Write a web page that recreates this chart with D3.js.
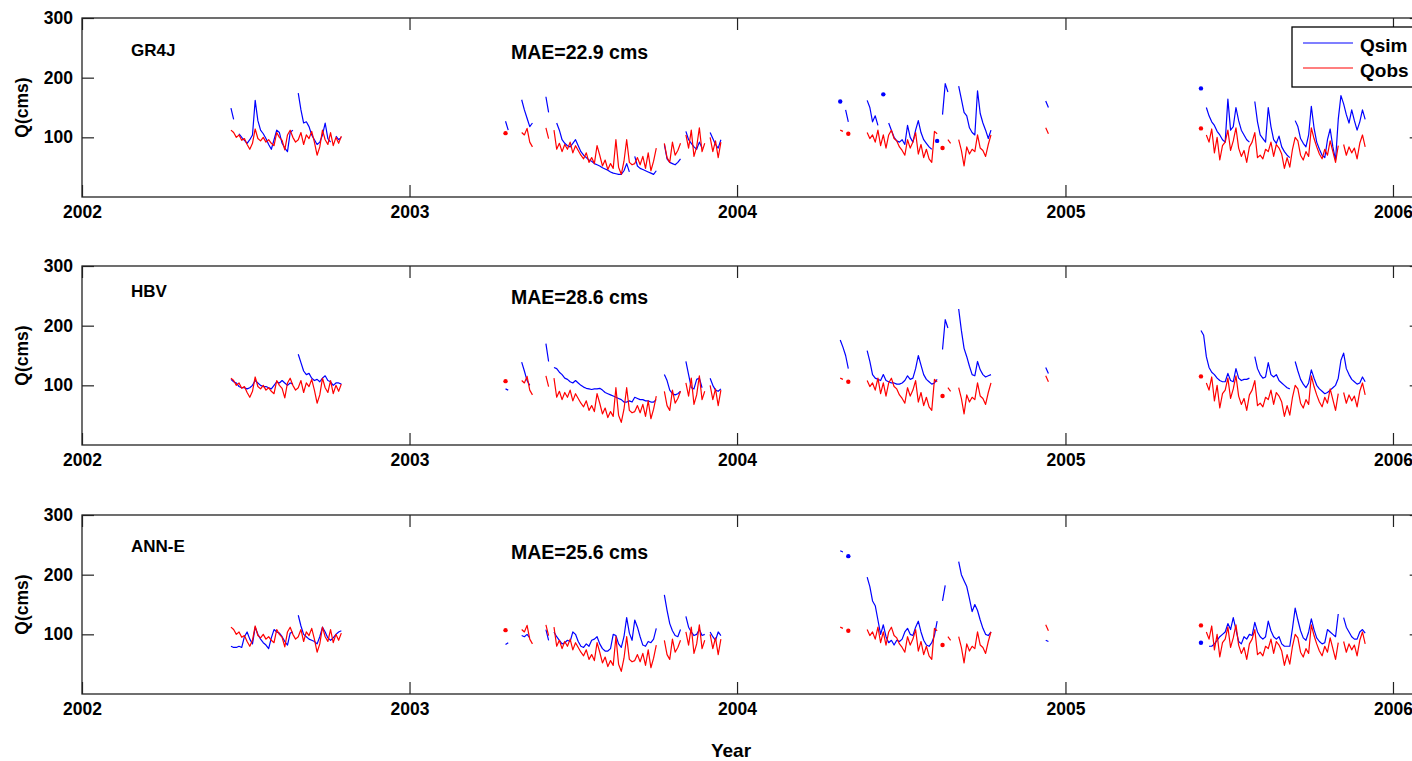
<!DOCTYPE html>
<html>
<head>
<meta charset="utf-8">
<script src="https://d3js.org/d3.v7.min.js"></script>
<style>
  body { margin: 0; background: #fff; }
  svg text { font-family: "Liberation Sans", Arial, sans-serif; font-weight: bold; fill: #000; }
</style>
</head>
<body>
<svg width="1412" height="761"></svg>

<script>
  const _ = null;
  const segStarts = ['2002-06-16', '2003-04-18', '2004-04-25', '2004-12-10', '2005-06-01'];
  const stepDays = 3;

  const qobs = [
    [112,108,100,104,95,98,88,80,90,114,98,94,100,92,96,90,86,108,100,95,79,104,112,100,92,96,108,88,104,98,110,92,70,84,112,96,88,108,86,100,90,102],
    [107,_,_,_,_,_,108,104,115,92,84,_,_,_,_,116,98,_,112,80,90,76,88,80,92,74,86,78,70,64,74,58,66,56,86,70,52,62,46,56,48,96,50,38,60,96,58,54,56,66,54,68,48,74,44,60,82,_,_,90,66,58,92,70,78,90,_,104,82,112,68,84,116,76,90,_,100,76,94,66,92],
    [112,110,_,106,_,_,_,_,_,_,108,98,104,92,112,86,104,82,104,112,98,94,84,78,70,96,82,92,108,72,88,66,80,64,58,110,106,_,82,_,96,90,_,_,96,78,52,84,72,80,76,104,82,78,68,88,104],
    [116,106],
    [115,_,104,92,114,74,100,62,86,92,112,78,94,116,82,68,78,58,84,92,108,66,70,64,80,76,92,68,88,82,72,48,66,50,80,100,94,70,62,76,68,116,98,84,72,64,80,70,94,76,58,86,_,88,70,84,74,82,64,90,104,84]
  ];

  const simGR4J = [
    [149,130,_,106,100,95,90,96,104,162,128,112,106,98,88,80,96,112,108,90,82,76,108,112,_,174,146,124,126,118,104,96,88,92,104,124,98,92,_,102,96,100],
    [127,112,_,_,_,_,163,146,132,118,124,_,_,_,_,168,142,_,_,124,112,96,90,86,84,90,96,86,76,70,66,62,60,56,54,52,49,47,45,42,40,39,38,38,44,56,42,_,68,52,48,46,44,42,40,38,44,_,_,88,64,58,56,54,58,64,_,110,96,90,84,80,92,82,_,_,108,98,88,82,96],
    [160,_,146,126,_,_,_,_,_,_,162,150,126,136,120,_,172,_,124,112,100,94,92,96,88,120,100,92,112,128,108,96,90,84,80,_,94,_,138,190,176,_,_,_,186,164,142,136,116,108,104,178,140,124,112,98,112],
    [161,150],
    [182,_,150,136,126,120,110,104,96,92,164,112,118,150,128,112,104,96,92,_,160,126,104,98,92,150,118,96,90,102,84,76,70,66,_,128,118,98,90,84,104,152,116,92,80,70,66,96,114,84,62,130,170,156,138,124,146,128,112,126,146,130]
  ];

  const simHBV = [
    [110,106,104,98,96,96,94,96,100,108,104,100,98,98,96,94,100,106,104,108,104,100,104,102,_,152,138,124,118,120,112,108,110,106,112,116,108,106,100,104,104,102],
    [94,92,_,_,_,_,139,124,108,100,_,_,_,_,_,170,140,_,130,128,122,118,112,110,106,104,108,104,100,97,95,94,93,94,94,95,92,88,86,84,82,80,78,76,72,72,74,72,80,78,76,76,74,74,72,72,76,_,_,118,108,92,86,84,86,90,_,140,118,96,94,110,112,96,_,_,112,100,92,90,94],
    [176,164,150,128,_,_,_,_,_,_,158,140,118,112,110,108,118,108,106,104,104,102,102,104,108,116,110,112,128,150,134,118,110,106,102,104,110,_,160,210,196,_,_,_,228,192,162,148,132,118,116,140,126,118,114,116,118],
    [130,120],
    [192,184,148,130,122,118,112,108,106,106,120,108,106,128,112,108,110,110,112,_,148,128,118,112,114,138,118,114,118,108,104,100,96,94,_,140,124,110,102,96,104,126,112,100,94,90,86,88,92,96,100,112,142,154,128,118,110,106,102,104,114,106]
  ];

  const simANNE = [
    [80,78,78,80,78,96,104,92,84,112,100,92,86,82,76,94,108,104,102,96,88,82,102,104,_,132,114,100,96,92,90,88,84,96,112,104,94,90,94,100,104,106],
    [83,86,_,_,_,_,98,96,100,94,_,_,_,_,_,108,90,_,104,96,90,84,86,90,88,104,100,88,80,78,84,80,90,92,96,84,76,72,72,76,100,98,84,78,96,128,102,90,124,112,96,82,80,88,86,92,110,_,_,166,140,118,106,98,96,108,_,130,112,104,98,100,108,98,100,_,104,96,90,104,98],
    [240,238,_,231,_,_,_,_,_,_,196,180,156,148,124,100,116,96,86,90,82,90,88,92,104,110,100,98,112,122,104,90,82,80,86,98,122,_,156,182,_,_,_,_,222,200,190,180,160,138,150,140,124,110,100,98,104],
    [90,88],
    [86,_,_,80,80,84,90,96,100,104,118,108,128,108,88,84,96,92,100,98,120,104,96,92,96,122,106,96,92,96,84,80,80,80,110,144,124,106,94,90,104,126,108,94,88,84,86,108,104,100,96,134,_,128,112,104,96,92,92,104,108,102]
  ];

  const modelNames = ['GR4J', 'HBV', 'ANN-E'];
  const maeLabels = ['MAE=22.9 cms', 'MAE=28.6 cms', 'MAE=25.6 cms'];
  const simSeries = [simGR4J, simHBV, simANNE];
  const yTicks = [100, 200, 300];
  const yearTicks = ['2002', '2003', '2004', '2005', '2006'];

  // ---------------- layout
  const svg = d3.select('svg');
  const parse = d3.utcParse('%Y-%m-%d');
  const axL = 82, axR = 1421.7;
  const panelTops = [18, 266, 515];
  const panelH = 179;
  const nameDy = [32, 25, 31];
  const maeDy = [34, 31, 37];

  const x = d3.scaleUtc()
    .domain([parse('2002-01-01'), parse('2006-02-02')])
    .range([axL, axR]);

  const toPoints = segs => {
    const pts = [];
    segs.forEach((vals, s) => {
      const t0 = parse(segStarts[s]);
      vals.forEach((v, i) => pts.push({t: d3.utcDay.offset(t0, i * stepDays), v: v}));
      pts.push({t: null, v: null}); // gap between records
    });
    return pts;
  };

  const lonely = pts => pts.filter((d, i) =>
    d.v != null && (i == 0 || pts[i - 1].v == null) && (i == pts.length - 1 || pts[i + 1].v == null));

  const obsPts = toPoints(qobs);

  const styleAxis = sel => {
    sel.select('.domain').remove();
    sel.selectAll('.tick line').attr('stroke', '#222').attr('stroke-width', 1.2);
    sel.selectAll('text').attr('font-size', 17.5).attr('font-family', null);
  };

  panelTops.forEach((top, k) => {
    const y = d3.scaleLinear().domain([0, 300]).range([top + panelH, top]);
    const g = svg.append('g');

    const line = d3.line()
      .defined(d => d.v != null)
      .x(d => x(d.t))
      .y(d => y(d.v));

    const simPts = toPoints(simSeries[k]);
    const series = [{pts: simPts, color: '#0000ff'}, {pts: obsPts, color: '#ff0000'}];

    series.forEach(s => {
      g.append('path')
        .attr('d', line(s.pts))
        .attr('fill', 'none')
        .attr('stroke', s.color)
        .attr('stroke-width', 1.2)
        .attr('stroke-linejoin', 'round');
      g.selectAll(null).data(lonely(s.pts)).enter().append('circle')
        .attr('cx', d => x(d.t))
        .attr('cy', d => y(d.v))
        .attr('r', 2.2)
        .attr('fill', s.color);
    });

    // axes, MATLAB style with inward ticks on all four sides
    const years = yearTicks.map(s => parse(s + '-01-01'));
    g.append('g').attr('transform', `translate(0,${top + panelH})`)
      .call(d3.axisBottom(x).tickValues(years).tickFormat(d3.utcFormat('%Y'))
        .tickSizeInner(-12).tickSizeOuter(0).tickPadding(9))
      .call(styleAxis);
    g.append('g').attr('transform', `translate(0,${top})`)
      .call(d3.axisTop(x).tickValues(years).tickFormat('')
        .tickSizeInner(-12).tickSizeOuter(0))
      .call(styleAxis);
    g.append('g').attr('transform', `translate(${axL},0)`)
      .call(d3.axisLeft(y).tickValues(yTicks).tickSizeInner(-12).tickSizeOuter(0).tickPadding(9))
      .call(styleAxis);
    g.append('g').attr('transform', `translate(${axR},0)`)
      .call(d3.axisRight(y).tickValues(yTicks).tickFormat('').tickSizeInner(-12).tickSizeOuter(0))
      .call(styleAxis);

    g.append('rect')
      .attr('x', axL).attr('y', top)
      .attr('width', axR - axL).attr('height', panelH)
      .attr('fill', 'none').attr('stroke', '#222').attr('stroke-width', 1.3);

    g.append('text')
      .attr('transform', `translate(22,${top + panelH / 2}) rotate(-90)`)
      .attr('text-anchor', 'middle').attr('dominant-baseline', 'central')
      .attr('font-size', 17.5).text('Q(cms)');

    g.append('text')
      .attr('x', 131).attr('y', top + nameDy[k])
      .attr('dominant-baseline', 'central')
      .attr('font-size', 17).text(modelNames[k]);

    g.append('text')
      .attr('x', 511).attr('y', top + maeDy[k])
      .attr('dominant-baseline', 'central')
      .attr('font-size', 19.5).text(maeLabels[k]);
  });

  // legend (top panel)
  const leg = svg.append('g');
  leg.append('rect')
    .attr('x', 1292).attr('y', 27).attr('width', 140).attr('height', 60)
    .attr('fill', '#fff').attr('stroke', '#000').attr('stroke-width', 1.3);
  [['Qsim', '#0000ff', 43], ['Qobs', '#ff0000', 68]].forEach(([lab, col, ly]) => {
    leg.append('line')
      .attr('x1', 1303).attr('x2', 1353).attr('y1', ly).attr('y2', ly)
      .attr('stroke', col).attr('stroke-width', 1.1);
    leg.append('text')
      .attr('x', 1360).attr('y', ly + 2)
      .attr('dominant-baseline', 'central')
      .attr('font-size', 19).text(lab);
  });

  svg.append('text')
    .attr('x', 731).attr('y', 750)
    .attr('text-anchor', 'middle').attr('dominant-baseline', 'central')
    .attr('font-size', 19).text('Year');
</script>
</body>
</html>
